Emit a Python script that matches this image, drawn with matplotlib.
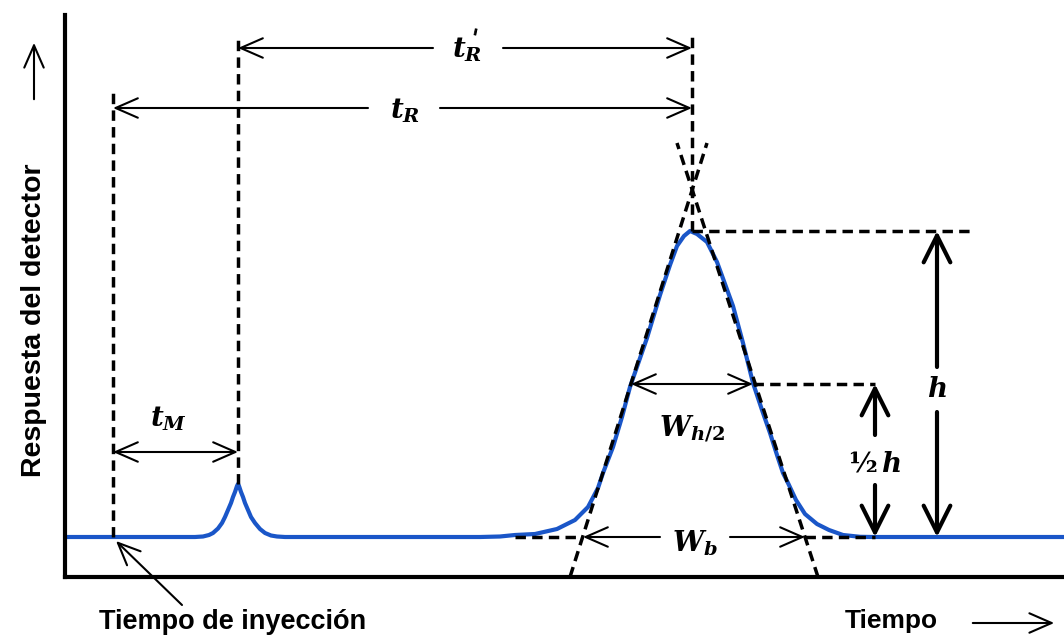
import numpy as np
import matplotlib.pyplot as plt
from matplotlib.patches import FancyArrowPatch

plt.rcParams['mathtext.fontset'] = 'custom'
plt.rcParams['mathtext.it'] = 'DejaVu Serif:italic:bold'
plt.rcParams['mathtext.rm'] = 'DejaVu Serif:bold'
plt.rcParams['mathtext.bf'] = 'DejaVu Serif:bold'

# schematic chromatogram, points (arbitrary units)
time = [0.0, 13.0, 13.8, 14.4, 14.8, 15.3, 15.7, 16.0, 16.3, 16.6, 16.8, 17.0, 17.1, 17.2, 17.3,
        17.4, 17.5, 17.6, 17.8, 18.0, 18.3, 18.6, 19.0, 19.5, 20.0, 20.6, 21.2, 22.0,
        41.5, 43.5, 45.0, 47.0, 49.2, 51.0, 52.3, 53.3, 53.8, 54.8, 55.7, 56.5, 58.2,
        59.5, 60.5, 61.2, 61.9, 62.5, 63.2, 64.2, 65.2, 66.0, 66.8, 67.8, 68.8, 69.7,
        70.5, 71.2, 71.8, 72.3, 73.1, 74.0, 75.2, 76.4, 77.8, 79.5, 80.8, 99.9]
response = [4.0, 4.0, 4.05, 4.2, 4.4, 4.85, 5.4, 6.0, 6.7, 7.4, 8.0, 8.5, 8.8, 9.1, 9.3,
            9.1, 8.8, 8.5, 8.0, 7.4, 6.7, 6.0, 5.4, 4.8, 4.4, 4.15, 4.05, 4.0,
            4.0, 4.05, 4.2, 4.3, 4.8, 5.7, 7.0, 8.9, 10.4, 13.0, 16.0, 19.0, 23.9,
            28.2, 31.2, 33.1, 34.1, 34.6, 34.3, 33.5, 31.5, 29.3, 27.1, 23.4, 19.4, 16.7,
            14.4, 12.2, 10.4, 9.4, 7.7, 6.3, 5.3, 4.7, 4.2, 4.02, 4.0, 4.0]

t_inj = 4.8          # injection time
t_M = 17.3           # dead time
t_R = 62.7           # retention time
base = 4.0
peak_top = 34.6
half = 19.3
half_w = [56.6, 68.8]       # width at half height
tan_foot = [50.5, 75.3]     # tangents crossing the time axis
tan_base = [51.8, 74.0]     # tangents crossing the baseline
tan_top = [64.2, 61.2]      # upper ends of the tangents
tan_top_y = 43.4
half_end = 81.0
top_end = 91.0
h_x = 87.2

fig = plt.figure(figsize=(10.64, 6.39), dpi=100)
ax = fig.add_axes([65 / 1064, 62 / 639, 999 / 1064, 562 / 639])
ax.set_xlim(0, 99.9)
ax.set_ylim(0, 56.2)
ax.set_xticks([])
ax.set_yticks([])
for s in ['top', 'right']:
    ax.spines[s].set_visible(False)
for s in ['left', 'bottom']:
    ax.spines[s].set_linewidth(3)

ax.plot(time, response, color='#1a56c8', lw=3, zorder=2, solid_joinstyle='round')

# dashed guides
kw = dict(color='black', lw=2.5, linestyle=(0, (3, 1.8)), zorder=3)
ax.plot([t_inj, t_inj], [base, 48.9], **kw)
ax.plot([t_M, t_M], [9.3, 54.2], **kw)
ax.plot([t_R, t_R], [peak_top, 54.2], **kw)
ax.plot([t_R, top_end], [peak_top, peak_top], **kw)
ax.plot([half_w[1], half_end], [half, half], **kw)
ax.plot([45.0, tan_base[0]], [base, base], **kw)
ax.plot([tan_base[1], half_end], [base, base], **kw)
ax.plot([tan_foot[0], tan_top[0]], [0, tan_top_y], **kw)
ax.plot([tan_foot[1], tan_top[1]], [0, tan_top_y], **kw)

head = '->,head_length=1.6,head_width=0.7'
both = '<->,head_length=1.6,head_width=0.7'
big = '->,head_length=1.6,head_width=0.8'


def arrow(x0, y0, x1, y1, lw=1.5, style=head, ms=10):
    ax.annotate('', xy=(x1, y1), xytext=(x0, y0),
                arrowprops=dict(arrowstyle=style, lw=lw, color='black',
                                mutation_scale=ms, shrinkA=0, shrinkB=0),
                annotation_clip=False, zorder=4)


lab = dict(ha='center', va='center', fontsize=20, color='black')

# t'_R
arrow(36.8, 52.9, t_M, 52.9)
arrow(43.8, 52.9, t_R, 52.9)
ax.text(40.2, 52.7, r"$t_R$", **lab)
ax.text(40.8, 53.7, "'", ha='center', va='center', fontsize=17, weight='bold',
        family='DejaVu Serif', rotation=-12)
# t_R
arrow(30.3, 46.9, t_inj, 46.9)
arrow(37.5, 46.9, t_R, 46.9)
ax.text(34.0, 46.6, r"$t_R$", **lab)
# t_M
arrow(t_inj, 12.5, t_M, 12.5, style=both)
ax.text(10.3, 15.8, r"$t_M$", **lab)
# W_h/2
arrow(half_w[0], half, half_w[1], half, style=both)
ax.text(t_R, 14.8, r"$W_{h/2}$", **lab)
# W_b
arrow(59.5, base, tan_base[0], base)
arrow(66.5, base, tan_base[1], base)
ax.text(63.0, 3.4, r"$W_b$", **lab)
# h
arrow(h_x, 21.0, h_x, peak_top, lw=3, style=big, ms=12)
arrow(h_x, 16.5, h_x, base, lw=3, style=big, ms=12)
ax.text(h_x, 18.8, r"$h$", **lab)
# 1/2 h
arrow(half_end, 14.2, half_end, half, lw=3, style=big, ms=12)
arrow(half_end, 9.2, half_end, base, lw=3, style=big, ms=12)
ax.text(half_end, 11.3, r"½$\,h$", ha='center', va='center', fontsize=20,
        family='DejaVu Serif', weight='bold')

# outer labels
sans = dict(weight='bold', family='Liberation Sans', ha='center', va='center')
fig.text(34 / 1064, 1 - 320 / 639, 'Respuesta del detector', rotation=90, fontsize=20.5, **sans)
fig.text(233 / 1064, 1 - 622 / 639, 'Tiempo de inyección', fontsize=19.5, **sans)
fig.text(891 / 1064, 1 - 621 / 639, 'Tiempo', fontsize=19, **sans)
fig.patches.append(FancyArrowPatch(
    (970 / 1064, 1 - 623 / 639), (1057 / 1064, 1 - 623 / 639), transform=fig.transFigure,
    arrowstyle=head, mutation_scale=10, lw=1.5, color='black'))
fig.patches.append(FancyArrowPatch(
    (34 / 1064, 1 - 102 / 639), (34 / 1064, 1 - 40 / 639), transform=fig.transFigure,
    arrowstyle=head, mutation_scale=10, lw=1.5, color='black'))
arrow(11.7, -2.8, t_inj + 0.3, base - 0.4)

fig.savefig('out.png', dpi=100)
